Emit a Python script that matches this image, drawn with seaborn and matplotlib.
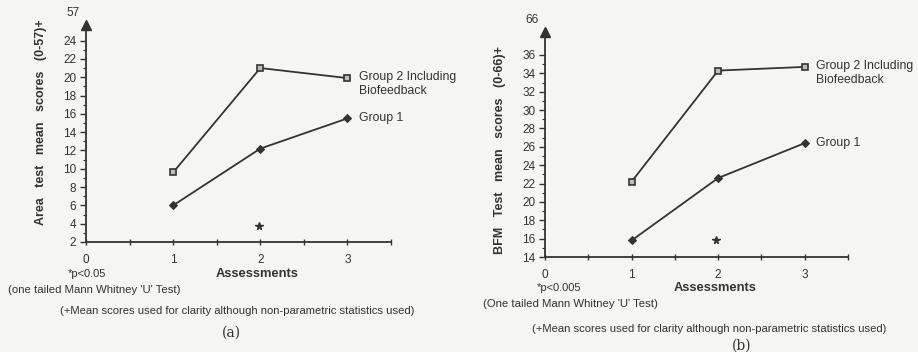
import numpy as np
import pandas as pd
import matplotlib
matplotlib.use("Agg")
import matplotlib.pyplot as plt
import seaborn as sns

# data
assessments = [1, 2, 3]
area_group2 = [9.6, 21.0, 19.9]
area_group1 = [6.0, 12.2, 15.5]
bfm_group2 = [22.2, 34.3, 34.7]
bfm_group1 = [15.8, 22.6, 26.4]
area_star = (1.98, 3.8)
bfm_star = (1.97, 15.9)
area_yticks = list(range(2, 25, 2))
bfm_yticks = list(range(14, 37, 2))

sns.set_style("ticks")
plt.rcParams['font.family'] = ['Liberation Sans', 'DejaVu Sans']
bg = '#f5f5f3'
c = '#333333'

fig = plt.figure(figsize=(9.18, 3.52), dpi=100, facecolor=bg)
W, H = 918, 352


def px(x, y):
    return x / W, 1 - y / H


def panel(rect, g2, g1, star, yticks, ylim, top_label):
    ax = fig.add_axes(rect)
    ax.set_facecolor(bg)
    df = pd.DataFrame({
        'Assessment': assessments * 2,
        'Score': g2 + g1,
        'Group': ['Group 2'] * 3 + ['Group 1'] * 3,
    })
    sns.lineplot(data=df[df.Group == 'Group 2'], x='Assessment', y='Score', ax=ax,
                 color=c, lw=1.3, marker='s', markersize=5,
                 markerfacecolor='#bdbdbd', markeredgecolor=c, markeredgewidth=1.2)
    sns.lineplot(data=df[df.Group == 'Group 1'], x='Assessment', y='Score', ax=ax,
                 color=c, lw=1.3, marker='D', markersize=4.5,
                 markerfacecolor=c, markeredgecolor=c)
    ax.plot(*star, marker='*', color=c, markersize=5.5, ls='none')
    ax.set_xlim(0, 3.5)
    ax.set_ylim(*ylim)
    ax.set_xticks(np.arange(0, 3.51, 0.5))
    ax.set_xticklabels(['0', '', '1', '', '2', '', '3', ''], fontsize=8.5)
    ax.set_yticks(yticks)
    ax.set_yticklabels([str(v) for v in yticks], fontsize=8.5)
    ax.set_yticks(np.arange(yticks[0] + 1, yticks[-1] + 1, 2), minor=True)
    ax.tick_params(axis='x', direction='inout', length=5, width=1, pad=6, colors=c)
    ax.tick_params(axis='y', which='major', length=4, width=1, pad=3, colors=c)
    ax.tick_params(axis='y', which='minor', length=2.5, width=0.8, colors=c)
    sns.despine(ax=ax)
    for side in ['left', 'bottom']:
        ax.spines[side].set_linewidth(1.3)
        ax.spines[side].set_color(c)
    ax.plot(0, 1, marker='^', color=c, markersize=7, transform=ax.transAxes, clip_on=False)
    ax.text(-0.02, 1.055, top_label, transform=ax.transAxes, ha='right', va='center',
            fontsize=8.5, color=c)
    ax.set_xlabel('')
    ax.set_ylabel('')
    ax.text(3.13, g2[-1], 'Group 2 Including\nBiofeedback', ha='left', va='top',
            fontsize=8.8, color=c, linespacing=1.2,
            transform=ax.transData + matplotlib.transforms.ScaledTranslation(0, 7 / 100, fig.dpi_scale_trans))
    ax.text(3.13, g1[-1], 'Group 1', ha='left', va='center', fontsize=8.8, color=c)
    return ax


ax1 = panel([86 / W, 110 / H, 305 / W, 217 / H], area_group2, area_group1, area_star,
            area_yticks, (2, 25.7), '57')
ax2 = panel([545 / W, 95 / H, 303 / W, 225 / H], bfm_group2, bfm_group1, bfm_star,
            bfm_yticks, (14, 38.5), '66')

# panel (a) texts
fig.text(*px(41, 122), 'Area   test   mean   scores   (0-57)+', rotation=90, ha='center', va='center',
         fontsize=9, fontweight='bold', color=c)
fig.text(*px(257, 274), 'Assessments', ha='center', va='center', fontsize=9.3, fontweight='bold', color=c)
fig.text(*px(68, 274), '*p<0.05', ha='left', va='center', fontsize=8, color=c)
fig.text(*px(8, 290), "(one tailed Mann Whitney 'U' Test)", ha='left', va='center', fontsize=8.2, color=c)
fig.text(*px(60, 311), '(+Mean scores used for clarity although non-parametric statistics used)',
         ha='left', va='center', fontsize=8.1, color=c)
fig.text(*px(231, 333), '(a)', ha='center', va='center', fontsize=10, family='DejaVu Serif', color=c)

# panel (b) texts
fig.text(*px(500, 150), 'BFM   Test   mean   scores   (0-66)+', rotation=90, ha='center', va='center',
         fontsize=9, fontweight='bold', color=c)
fig.text(*px(715, 288), 'Assessments', ha='center', va='center', fontsize=9.3, fontweight='bold', color=c)
fig.text(*px(537, 288), '*p<0.005', ha='left', va='center', fontsize=8, color=c)
fig.text(*px(483, 304), "(One tailed Mann Whitney 'U' Test)", ha='left', va='center', fontsize=8.2, color=c)
fig.text(*px(532, 329), '(+Mean scores used for clarity although non-parametric statistics used)',
         ha='left', va='center', fontsize=8.1, color=c)
fig.text(*px(742, 346), '(b)', ha='center', va='center', fontsize=10, family='DejaVu Serif', color=c)

fig.savefig('out.png', dpi=100, facecolor=bg)
